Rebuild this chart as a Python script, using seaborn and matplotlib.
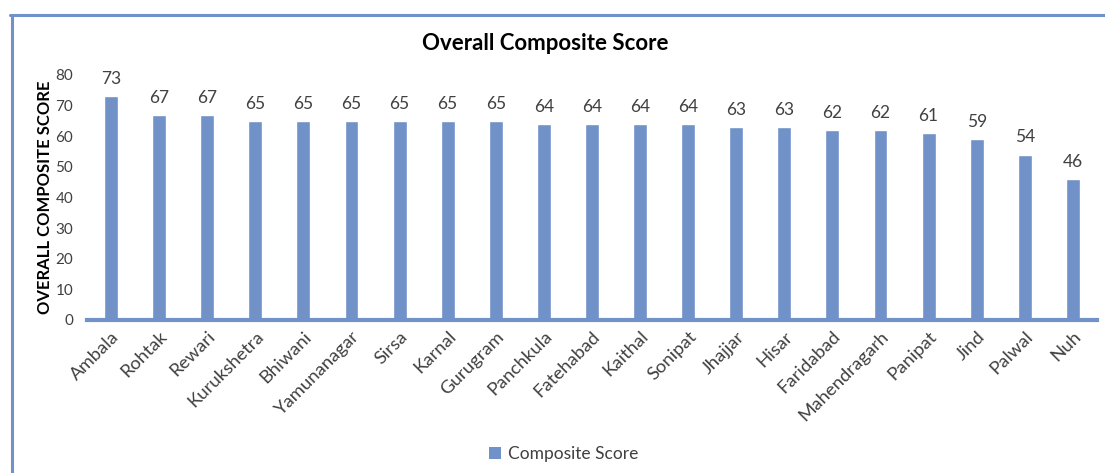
import matplotlib
matplotlib.use('Agg')
import matplotlib.pyplot as plt
import seaborn as sns
import pandas as pd
from matplotlib.lines import Line2D
from matplotlib.patches import Patch

districts = ['Ambala', 'Rohtak', 'Rewari', 'Kurukshetra', 'Bhiwani', 'Yamunanagar',
             'Sirsa', 'Karnal', 'Gurugram', 'Panchkula', 'Fatehabad', 'Kaithal',
             'Sonipat', 'Jhajjar', 'Hisar', 'Faridabad', 'Mahendragarh', 'Panipat',
             'Jind', 'Palwal', 'Nuh']
scores = [73, 67, 67, 65, 65, 65, 65, 65, 65, 64, 64, 64, 64, 63, 63, 62, 62, 61, 59, 54, 46]
y_ticks = [0, 10, 20, 30, 40, 50, 60, 70, 80]

df = pd.DataFrame({'district': districts, 'score': scores})

sns.set_style('white')
plt.rcParams['font.family'] = ['Lato', 'DejaVu Sans']

bar_color = '#7191C9'
text_color = '#404040'

fig = plt.figure(figsize=(11.05, 4.73), dpi=100)
ax = fig.add_axes([0.0787, 0.3235, 0.914, 0.518])

sns.barplot(x='district', y='score', data=df, color=bar_color, width=0.29,
            saturation=1, ax=ax)

ax.set_xlim(-0.5, len(districts) - 0.5)
ax.set_ylim(0, 80)
ax.set_yticks(y_ticks)
ax.tick_params(axis='y', labelsize=11, colors=text_color, length=0, pad=10)
ax.tick_params(axis='x', length=0, pad=6)
ax.set_xticks(range(len(districts)))
ax.set_xticklabels(districts, rotation=45, ha='right', rotation_mode='anchor',
                   fontsize=13.3, color=text_color)

for s in ['top', 'right', 'left']:
    ax.spines[s].set_visible(False)
ax.spines['bottom'].set_color(bar_color)
ax.spines['bottom'].set_linewidth(3)

for i, v in enumerate(scores):
    ax.text(i, v + 3, str(v), ha='center', va='bottom', fontsize=12.5, color=text_color)

ax.set_xlabel('')
ax.set_ylabel('OVERALL COMPOSITE SCORE', fontsize=12, fontweight='bold', color='black',
              labelpad=2)

fig.text(0.493, 0.908, 'Overall Composite Score', ha='center', va='center',
         fontsize=16, fontweight='bold', color='black')

# chart frame
fig.add_artist(Line2D([0.0095, 1.0], [0.968, 0.968], color=bar_color, lw=2.2,
                      transform=fig.transFigure))
fig.add_artist(Line2D([0.0105, 0.0105], [0.0, 0.968], color=bar_color, lw=2.2,
                      transform=fig.transFigure))

handles = [Patch(facecolor=bar_color, edgecolor='none', label='Composite Score')]
fig.legend(handles=handles, loc='center', bbox_to_anchor=(0.51, 0.04), frameon=False,
           fontsize=12.5, handlelength=0.7, handleheight=0.7, handletextpad=0.4,
           labelcolor=text_color)

fig.savefig('out.png', dpi=100)
